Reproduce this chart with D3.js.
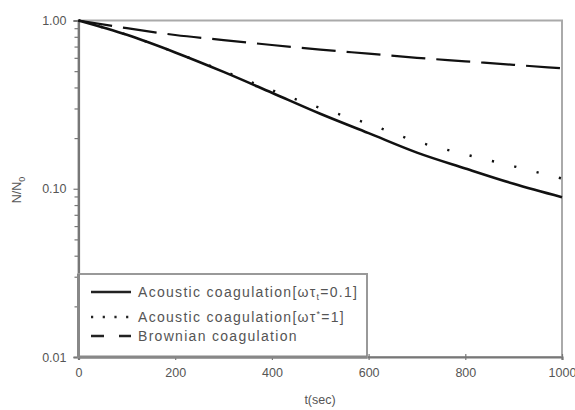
<!DOCTYPE html>
<html>
<head>
<meta charset="utf-8">
<script src="https://cdn.jsdelivr.net/npm/d3@7"></script>
<style>
  body { margin: 0; background: #fff; }
  svg text { font-family: "Liberation Sans", Arial, sans-serif; fill: #555; }
</style>
</head>
<body>
<script>
// values, N/N0 at each time (sec)
var times = [0, 100, 200, 300, 400, 500, 600, 700, 800, 900, 1000];
var acousticSolid = [1.0, 0.822, 0.646, 0.495, 0.372, 0.279, 0.214, 0.164, 0.132, 0.107, 0.089];
var acousticDotted = [1.0, 0.822, 0.646, 0.501, 0.385, 0.302, 0.243, 0.191, 0.160, 0.136, 0.115];
var brownian = [1.0, 0.90, 0.82, 0.765, 0.715, 0.672, 0.635, 0.60, 0.572, 0.545, 0.52];
var xTicks = [0, 200, 400, 600, 800, 1000];
var yTicks = [0.01, 0.1, 1];
var yTickLabels = ["0.01", "0.10", "1.00"];

var width = 575, height = 410;
var plotLeft = 78.5, plotRight = 562, plotTop = 20.5, plotBottom = 357;

var svg = d3.select("body").append("svg")
    .attr("width", width)
    .attr("height", height);

var x = d3.scaleLinear().domain([0, 1000]).range([plotLeft, plotRight]);
var y = d3.scaleLog().domain([0.01, 1]).range([plotBottom, plotTop]);

// frame (top and right)
svg.append("rect")
    .attr("x", plotLeft).attr("y", plotTop)
    .attr("width", plotRight - plotLeft).attr("height", plotBottom - plotTop)
    .attr("fill", "none")
    .attr("stroke", "#aaa")
    .attr("stroke-width", 2);

// y axis with minor ticks
var minor = [];
[0.01, 0.1].forEach(function(base) {
  for (var k = 2; k <= 9; k++) minor.push(base * k);
});
svg.append("g")
    .attr("transform", "translate(" + plotLeft + ",0)")
    .call(d3.axisLeft(y).tickValues(minor).tickSize(4).tickFormat(""))
    .call(function(g) { g.select(".domain").remove(); })
    .selectAll("line").attr("stroke", "#777").attr("stroke-width", 1.2);

var yAxis = svg.append("g")
    .attr("transform", "translate(" + plotLeft + ",0)")
    .call(d3.axisLeft(y).tickValues(yTicks).tickSize(5).tickPadding(7)
      .tickFormat(function(d, i) { return yTickLabels[i]; }));
yAxis.select(".domain").attr("stroke", "#777").attr("stroke-width", 2.2);
yAxis.selectAll("line").attr("stroke", "#777").attr("stroke-width", 1.2);
yAxis.selectAll("text").style("font-size", "12.5px").attr("fill", "#555");

var xAxis = svg.append("g")
    .attr("transform", "translate(0," + plotBottom + ")")
    .call(d3.axisBottom(x).tickValues(xTicks).tickSize(3).tickPadding(8)
      .tickFormat(d3.format("d")));
xAxis.select(".domain").attr("stroke", "#777").attr("stroke-width", 2.2);
xAxis.selectAll("line").attr("y1", -3).attr("stroke", "#777").attr("stroke-width", 1.2);
xAxis.selectAll("text").style("font-size", "12.5px").attr("fill", "#555");

// axis titles
svg.append("text")
    .attr("x", 320).attr("y", 404)
    .attr("text-anchor", "middle")
    .style("font-size", "12.5px")
    .text("t(sec)");

var yTitle = svg.append("text")
    .attr("transform", "translate(21,190) rotate(-90)")
    .attr("text-anchor", "middle")
    .style("font-size", "12.5px");
yTitle.append("tspan").text("N/N");
yTitle.append("tspan").attr("dy", 4).style("font-size", "9px").text("0");

// curves
var line = d3.line()
    .x(function(d) { return x(d[0]); })
    .y(function(d) { return y(d[1]); })
    .curve(d3.curveMonotoneX);

var series = [
  { values: brownian, dash: "34,11", width: 2.2 },
  { values: acousticDotted, dash: "2.2,20.8", width: 2.4 },
  { values: acousticSolid, dash: null, width: 2.6 }
];

series.forEach(function(s) {
  svg.append("path")
      .datum(times.map(function(t, i) { return [t, s.values[i]]; }))
      .attr("d", line)
      .attr("fill", "none")
      .attr("stroke", "#111")
      .attr("stroke-width", s.width)
      .attr("stroke-dasharray", s.dash);
});

// legend
var lg = svg.append("g");
lg.append("rect")
    .attr("x", plotLeft).attr("y", 274)
    .attr("width", 367 - plotLeft).attr("height", plotBottom - 274)
    .attr("fill", "#fff")
    .attr("stroke", "#999")
    .attr("stroke-width", 2);
lg.append("line").attr("x1", plotLeft).attr("x2", 367).attr("y1", plotBottom).attr("y2", plotBottom)
    .attr("stroke", "#888").attr("stroke-width", 3);
lg.append("line").attr("x1", plotLeft).attr("x2", plotLeft).attr("y1", 274).attr("y2", plotBottom)
    .attr("stroke", "#888").attr("stroke-width", 3);

var legendRows = [
  { y: 292, dash: null, width: 2.6 },
  { y: 317, dash: "2.2,9.5", width: 2.4 },
  { y: 336, dash: "13,15", width: 2.6 }
];
legendRows.forEach(function(r) {
  lg.append("line")
      .attr("x1", 91).attr("x2", 131)
      .attr("y1", r.y).attr("y2", r.y)
      .attr("stroke", "#222")
      .attr("stroke-width", r.width)
      .attr("stroke-dasharray", r.dash);
});

var t1 = lg.append("text").attr("x", 138).attr("y", 297)
    .style("font-size", "14px").style("letter-spacing", "1.3px");
t1.append("tspan").text("Acoustic coagulation[ωτ");
t1.append("tspan").attr("dy", 3).style("font-size", "9px").text("t");
t1.append("tspan").attr("dy", -3).text("=0.1]");

var t2 = lg.append("text").attr("x", 138).attr("y", 321.5)
    .style("font-size", "14px").style("letter-spacing", "1.3px");
t2.append("tspan").text("Acoustic coagulation[ωτ");
t2.append("tspan").attr("dy", -5).style("font-size", "9px").text("*");
t2.append("tspan").attr("dy", 5).text("=1]");

lg.append("text").attr("x", 138).attr("y", 341)
    .style("font-size", "14px").style("letter-spacing", "1.3px")
    .text("Brownian coagulation");
</script>
</body>
</html>
